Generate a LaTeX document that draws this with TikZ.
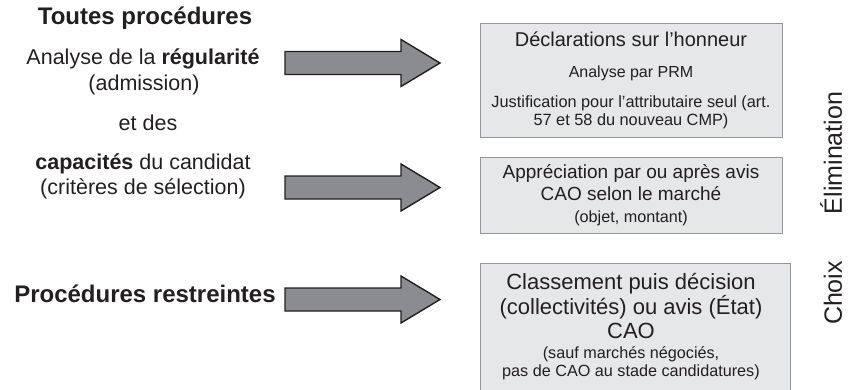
\documentclass[tikz,border=0pt]{standalone}
\usepackage{fontspec}
\setmainfont{Liberation Sans}
\definecolor{txt}{HTML}{231F20}
\definecolor{boxfill}{HTML}{E6E7E8}
\definecolor{boxline}{HTML}{939598}
\definecolor{arrfill}{HTML}{8A8C8F}
\definecolor{arrline}{HTML}{231F20}
\newcommand\pxsize[1]{\fontsize{#1}{#1}\selectfont}
% block arrow: name, vertical centre
\newcommand\blockarrow[2]{%
  \draw[barrow] (285,#2-11.5) -- (401,#2-11.5) -- (401,#2-23.5) -- (440,#2)
    -- (401,#2+23.5) -- (401,#2+11.5) -- (285,#2+11.5) -- cycle;
  \coordinate (#1) at (440,#2);}
\begin{document}
\begin{tikzpicture}[x=1pt,y=-1pt,
  lbl/.style={inner sep=0pt, text=txt, text height=0.75em, text depth=0.2em},
  fbox/.style={draw=boxline, fill=boxfill, line width=1.4pt, inner sep=0pt, anchor=north west},
  barrow/.style={draw=arrline, fill=arrfill, line width=1.4pt, line join=miter}]
\useasboundingbox (0,0) rectangle (860,389);

% left column
\node[lbl, font=\bfseries\pxsize{24}] (toutes) at (145,22) {Toutes procédures};
\node[lbl, font=\pxsize{21.5}] (reg) at (143,62) {Analyse de la \textbf{régularité}};
\node[lbl, font=\pxsize{21.5}] (adm) at (144,88) {(admission)};
\node[lbl, font=\pxsize{21.5}] (etdes) at (148,128) {et des};
\node[lbl, font=\pxsize{21.5}] (cap) at (143,167) {\textbf{capacités} du candidat};
\node[lbl, font=\pxsize{21.5}] (crit) at (143,192) {(critères de sélection)};
\node[lbl, font=\bfseries\pxsize{24}] (restr) at (145,300) {Procédures restreintes};

% arrows
\blockarrow{a1}{63}
\blockarrow{a2}{187.5}
\blockarrow{a3}{299.5}

% boxes
\node[fbox, minimum width=302pt, minimum height=114pt] (b1) at (480,23) {};
\node[fbox, minimum width=302pt, minimum height=76pt] (b2) at (480,157) {};
\node[fbox, minimum width=310pt, minimum height=140pt] (b3) at (480,263) {};

% box 1 text
\node[lbl, font=\pxsize{20}] (t11) at (631,44) {Déclarations sur l’honneur};
\node[lbl, font=\pxsize{16}] (t12) at (631,75) {Analyse par PRM};
\node[lbl, font=\pxsize{16.3}] (t13) at (631,105) {Justification pour l’attributaire seul (art.};
\node[lbl, font=\pxsize{16.3}] (t14) at (631,123) {57 et 58 du nouveau CMP)};

% box 2 text
\node[lbl, font=\pxsize{19}] (t21) at (631,176) {Appréciation par ou après avis};
\node[lbl, font=\pxsize{19}] (t22) at (631,198) {CAO selon le marché};
\node[lbl, font=\pxsize{16.2}] (t23) at (631,220) {(objet, montant)};

% box 3 text
\node[lbl, font=\pxsize{22}] (t31) at (631,287) {Classement puis décision};
\node[lbl, font=\pxsize{22}] (t32) at (631,312) {(collectivités) ou avis (État)};
\node[lbl, font=\pxsize{22}] (t33) at (631,336) {CAO};
\node[lbl, font=\pxsize{16.2}] (t34) at (631,356) {(sauf marchés négociés,};
\node[lbl, font=\pxsize{16.2}] (t35) at (631,374) {pas de CAO au stade candidatures)};

% side labels
\node[lbl, font=\pxsize{25}, rotate=90] (elim) at (839,153) {Élimination};
\node[lbl, font=\pxsize{25}, rotate=90] (choix) at (839,293) {Choix};
\end{tikzpicture}
\end{document}
